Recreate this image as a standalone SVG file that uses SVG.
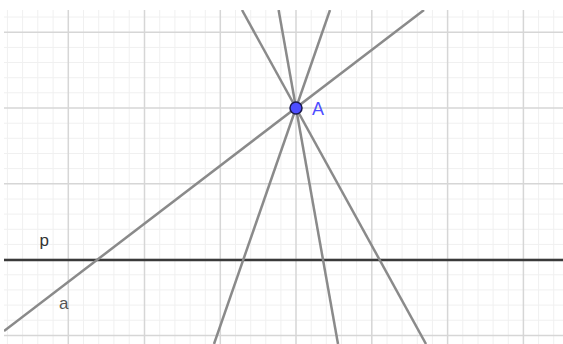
<svg xmlns="http://www.w3.org/2000/svg" width="563" height="344" viewBox="0 0 563 344">
<defs>
<style>
.minor{stroke:#f0f0f0;stroke-width:1}
.major{stroke:#d6d6d6;stroke-width:1.5}
.ln{stroke:#8a8a8a;stroke-width:2.5;fill:none}
.axis{stroke:#3a3a3a;stroke-width:2.5}
.lbl{font-family:"Liberation Sans",Arial,sans-serif;fill:#555555}
</style>
<clipPath id="c"><rect x="4" y="10" width="559" height="334"/></clipPath>
</defs>
<rect width="563" height="344" fill="#ffffff"/>
<g id="grid" clip-path="url(#c)">
<g class="minor">
<path d="M7.4 10V344M22.6 10V344M37.8 10V344M53.1 10V344M83.5 10V344M98.7 10V344M113.9 10V344M129.2 10V344M159.7 10V344M174.9 10V344M190.1 10V344M205.3 10V344M235.5 10V344M250.7 10V344M265.8 10V344M280.9 10V344M311.2 10V344M326.3 10V344M341.5 10V344M356.6 10V344M387 10V344M402.1 10V344M417.3 10V344M432.4 10V344M462.8 10V344M478 10V344M493.1 10V344M508.3 10V344M538.6 10V344M553.7 10V344"/>
<path d="M4 17H563M4 47.4H563M4 62.5H563M4 77.7H563M4 92.8H563M4 123.2H563M4 138.3H563M4 153.5H563M4 168.6H563M4 199H563M4 214.1H563M4 229.3H563M4 244.4H563M4 274.8H563M4 289.9H563M4 305.1H563M4 320.2H563"/>
</g>
<g class="major">
<path d="M68.3 10V344M144.5 10V344M220.3 10V344M296 10V344M371.8 10V344M447.6 10V344M523.4 10V344"/>
<path d="M4 32.2H563M4 108H563M4 183.8H563M4 259.6H563M4 335.4H563"/>
</g>
</g>
<g id="connectors" clip-path="url(#c)">
<line id="line-p" class="axis" x1="4" y1="260" x2="563" y2="260"/>
<line id="line-a" class="ln" x1="4" y1="331" x2="424" y2="10"/>
<line id="line-b" class="ln" x1="242" y1="10" x2="426" y2="344"/>
<line id="line-c" class="ln" x1="278.6" y1="10" x2="338" y2="344"/>
<line id="line-d" class="ln" x1="330" y1="10" x2="214" y2="344"/>
</g>
<g id="node-A">
<circle cx="296" cy="108" r="6" fill="#4d4dff" stroke="#1a1a4d" stroke-width="1.5"/>
<text class="lbl" x="312" y="114.5" font-size="18" style="fill:#4d4dff">A</text>
</g>
<g id="label-p"><text class="lbl" x="39.5" y="246" font-size="17" style="fill:#333333">p</text></g>
<g id="label-a"><text class="lbl" x="59" y="308.5" font-size="17">a</text></g>
</svg>
